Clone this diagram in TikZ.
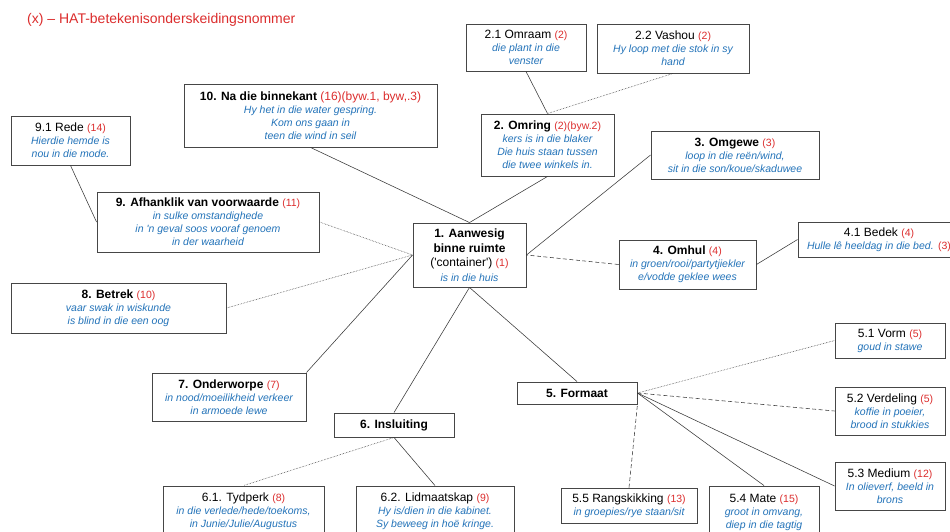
\documentclass[tikz,border=0pt]{standalone}
\usepackage{fontspec}
\setmainfont{Liberation Sans}
\definecolor{hatred}{RGB}{220,45,45}
\definecolor{hatblue}{RGB}{35,115,185}
\definecolor{boxgray}{RGB}{70,70,70}
\definecolor{linegray}{RGB}{55,55,55}
\newcommand{\rd}[1]{{\fontsize{10.5}{13}\selectfont\color{hatred}#1}}
\newcommand{\rdn}[1]{{\color{hatred}#1}}
\newcommand{\ex}[1]{{\fontsize{10.5}{13}\selectfont\itshape\color{hatblue}#1}}
\begin{document}
\begin{tikzpicture}[x=1pt,y=-1pt,
 box/.style={draw=boxgray,line width=0.9pt,fill=white,align=center,inner sep=1pt,font=\fontsize{12}{13}\selectfont},
 link/.style={draw=linegray,line width=0.55pt},
 dotlink/.style={link,densely dotted},
 dashlink/.style={link,dash pattern=on 4pt off 2.5pt},
 plain/.style={inner sep=0pt,align=center}]
\clip (0,0) rectangle (950,531);
\fill[white] (0,0) rectangle (950,531);

\node[plain,anchor=west,text=hatred,font=\fontsize{14}{16}\selectfont] (title) at (27,20) {(x) \textendash\ HAT-betekenisonderskeidingsnommer};

\node[box,minimum width=120,minimum height=47] (t21) at (526,47.5) {2.1 Omraam \rd{(2)}\\\ex{die plant in die}\\\ex{venster}};
\node[box,minimum width=152,minimum height=49] (t22) at (673,48.5) {2.2 Vashou \rd{(2)}\\\ex{Hy loop met die stok in sy}\\\ex{hand}};
\node[box,minimum width=253,minimum height=63] (t10) at (310.5,115.5) {\textbf{10. Na die binnekant} \rdn{(16)(byw.1, byw,.3)}\\\ex{Hy het in die water gespring.}\\\ex{Kom ons gaan in}\\\ex{teen die wind in seil}};
\node[box,minimum width=119,minimum height=49] (t91) at (70.5,140.5) {9.1 Rede \rd{(14)}\\\ex{Hierdie hemde is}\\\ex{nou in die mode.}};
\node[box,minimum width=133,minimum height=62] (t2) at (547.5,145) {\textbf{2. Omring} \rd{(2)(byw.2)}\\\ex{kers is in die blaker}\\\ex{Die huis staan tussen}\\\ex{die twee winkels in.}};
\node[box,minimum width=168,minimum height=48] (t3) at (735,155) {\textbf{3. Omgewe} \rd{(3)}\\\ex{loop in die reën/wind,}\\\ex{sit in die son/koue/skaduwee}};
\node[box,minimum width=222,minimum height=60] (t9) at (208,222) {\textbf{9. Afhanklik van voorwaarde} \rd{(11)}\\\ex{in sulke omstandighede}\\\ex{in \textquotesingle n geval soos vooraf genoem}\\\ex{in der waarheid}};
\node[box,minimum width=113,minimum height=64,font=\fontsize{12}{14.5}\selectfont] (t1) at (469.5,255) {\textbf{1. Aanwesig}\\\textbf{binne ruimte}\\(\textquotesingle container\textquotesingle) \rd{(1)}\\\ex{is in die huis}};
\node[box,minimum width=137,minimum height=49] (t4) at (687.5,264.5) {\textbf{4. Omhul} \rd{(4)}\\\ex{in groen/rooi/partytjiekler}\\\ex{e/vodde geklee wees}};
\node[box,minimum width=162,minimum height=35] (t41) at (879,239.5) {4.1 Bedek \rd{(4)}\\\ex{Hulle lê heeldag in die bed.} \rd{(3)}};
\node[box,minimum width=215,minimum height=50] (t8) at (118.5,308) {\textbf{8. Betrek} \rd{(10)}\\\ex{vaar swak in wiskunde}\\\ex{is blind in die een oog}};
\node[box,minimum width=154,minimum height=48] (t7) at (229,397) {\textbf{7. Onderworpe} \rd{(7)}\\\ex{in nood/moeilikheid verkeer}\\\ex{in armoede lewe}};
\node[box,minimum width=120,minimum height=24] (t6) at (394,425) {\textbf{6. Insluiting}};
\node[box,minimum width=161,minimum height=50] (t61) at (243.5,511) {6.1. Tydperk \rd{(8)}\\\ex{in die verlede/hede/toekoms,}\\\ex{in Junie/Julie/Augustus}};
\node[box,minimum width=158,minimum height=50] (t62) at (435,511) {6.2. Lidmaatskap \rd{(9)}\\\ex{Hy is/dien in die kabinet.}\\\ex{Sy beweeg in hoë kringe.}};
\node[box,minimum width=120,minimum height=22] (t5) at (577,393) {\textbf{5. Formaat}};
\node[box,minimum width=110,minimum height=35] (t51) at (890,340.5) {5.1 Vorm \rd{(5)}\\\ex{goud in stawe}};
\node[box,minimum width=110,minimum height=48] (t52) at (890,411) {5.2 Verdeling \rd{(5)}\\\ex{koffie in poeier,}\\\ex{brood in stukkies}};
\node[box,minimum width=110,minimum height=48] (t53) at (890,486) {5.3 Medium \rd{(12)}\\\ex{In olieverf, beeld in}\\\ex{brons}};
\node[box,minimum width=136,minimum height=35] (t55) at (629,505.5) {5.5 Rangskikking \rd{(13)}\\\ex{in groepies/rye staan/sit}};
\node[box,minimum width=110,minimum height=52] (t54) at (764,512) {5.4 Mate \rd{(15)}\\\ex{groot in omvang,}\\\ex{diep in die tagtig}};

\draw[link] (t21.south) -- (t2.north);
\draw[dotlink] (t22.south) -- (t2.north);
\draw[link] (t2.south) -- (t1.north);
\draw[link] (t10.south) -- (t1.north);
\draw[link] (t3.west) -- (t1.east);
\draw[dashlink] (t4.west) -- (t1.east);
\draw[link] (t41.west) -- (t4.east);
\draw[dotlink] (t9.east) -- (t1.west);
\draw[link] (t91.south) -- (t9.west);
\draw[dotlink] (t8.east) -- (t1.west);
\draw[link] (t7.north east) -- (t1.west);
\draw[link] (t6.north) -- (t1.south);
\draw[link] (t1.south) -- (t5.north);
\draw[dotlink] (t6.south) -- (t61.north);
\draw[link] (t6.south) -- (t62.north);
\draw[dotlink] (t5.east) -- (t51.west);
\draw[dashlink] (t5.east) -- (t52.west);
\draw[link] (t5.east) -- (t53.west);
\draw[link] (t5.east) -- (t54.north);
\draw[dashlink] (t55.north) -- (t5.south east);
\end{tikzpicture}
\end{document}
